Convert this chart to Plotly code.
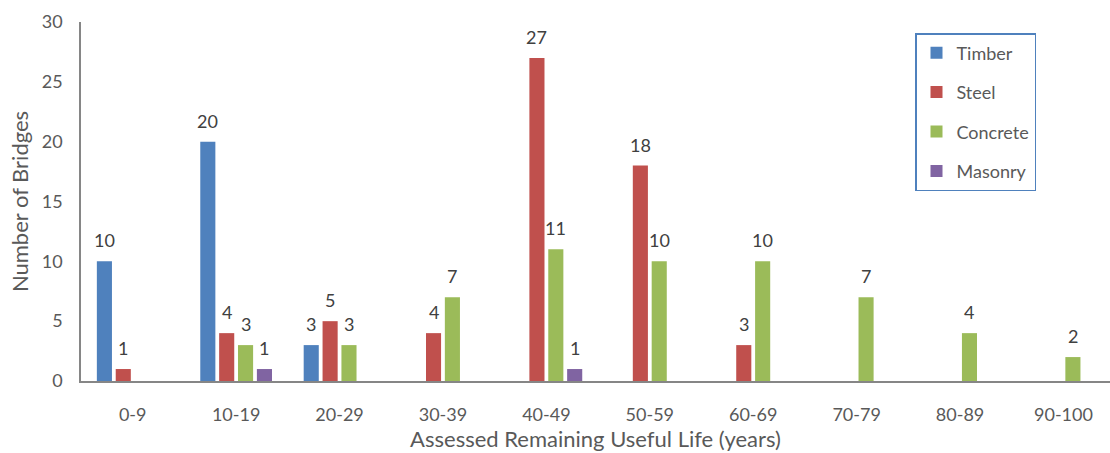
import plotly.graph_objects as go

# Remaining useful life bands and bridge counts per material
categories = ["0-9", "10-19", "20-29", "30-39", "40-49", "50-59", "60-69", "70-79", "80-89", "90-100"]
timber = [10, 20, 3, 0, 0, 0, 0, 0, 0, 0]
steel = [1, 4, 5, 4, 27, 18, 3, 0, 0, 0]
concrete = [0, 3, 3, 7, 11, 10, 10, 7, 4, 2]
masonry = [0, 1, 0, 0, 1, 0, 0, 0, 0, 0]

series = [
    ("Timber", timber, "#4F81BD"),
    ("Steel", steel, "#C0504D"),
    ("Concrete", concrete, "#9BBB59"),
    ("Masonry", masonry, "#8064A2"),
]

FONT = "Lato"
GREY = "#595959"
W, H = 1110, 453
ML, MR, MT, MB = 81, 0, 22, 72
XRANGE = [-0.5, 9.45]
BARGAP = 0.27

fig = go.Figure()
for name, vals, color in series:
    fig.add_trace(go.Bar(
        name=name,
        x=categories,
        y=[v if v else None for v in vals],
        marker=dict(color=color, line=dict(width=0)),
        legendgroup=name,
    ))

# value labels above each non-zero bar
plot_w = W - ML - MR
slot = plot_w / (XRANGE[1] - XRANGE[0]) * (1 - BARGAP) / len(series)
annotations = []
for i, (name, vals, color) in enumerate(series):
    for cat, v in zip(categories, vals):
        if v:
            annotations.append(dict(
                x=cat, y=v, text=str(v), showarrow=False,
                xref="x", yref="y", yanchor="bottom",
                xshift=(i - (len(series) - 1) / 2) * slot, yshift=8,
                font=dict(family=FONT, size=18, color="#404040"),
            ))

fig.update_layout(
    width=W, height=H,
    margin=dict(l=ML, r=MR, t=MT, b=MB),
    paper_bgcolor="white", plot_bgcolor="white",
    barmode="group", bargap=BARGAP, bargroupgap=0.2,
    font=dict(family=FONT, size=18, color=GREY),
    annotations=annotations,
    legend=dict(
        x=(915 - ML) / plot_w, y=(H - MB - 33) / (H - MB - MT),
        xanchor="left", yanchor="top",
        bordercolor="#4F81BD", borderwidth=1.5, bgcolor="white",
        font=dict(family=FONT, size=18, color=GREY),
        tracegroupgap=13, traceorder="grouped",
        itemwidth=30,
    ),
    xaxis=dict(
        range=XRANGE, showgrid=False, showline=True, linecolor="#868686", linewidth=1.5,
        ticks="", ticklabelstandoff=17,
        tickfont=dict(family=FONT, size=18, color=GREY),
        title=dict(text="Assessed Remaining Useful Life (years)", standoff=4,
                   font=dict(family=FONT, size=22, color=GREY)),
        fixedrange=True,
    ),
    yaxis=dict(
        range=[0, 30], dtick=5, showgrid=False, zeroline=False,
        showline=True, linecolor="#868686", linewidth=1.5,
        ticks="", ticklabelstandoff=13,
        tickfont=dict(family=FONT, size=18, color=GREY),
        title=dict(text="Number of Bridges", standoff=7,
                   font=dict(family=FONT, size=22, color=GREY)),
        fixedrange=True,
    ),
)

fig.write_html("out.html", config={"displayModeBar": False})
